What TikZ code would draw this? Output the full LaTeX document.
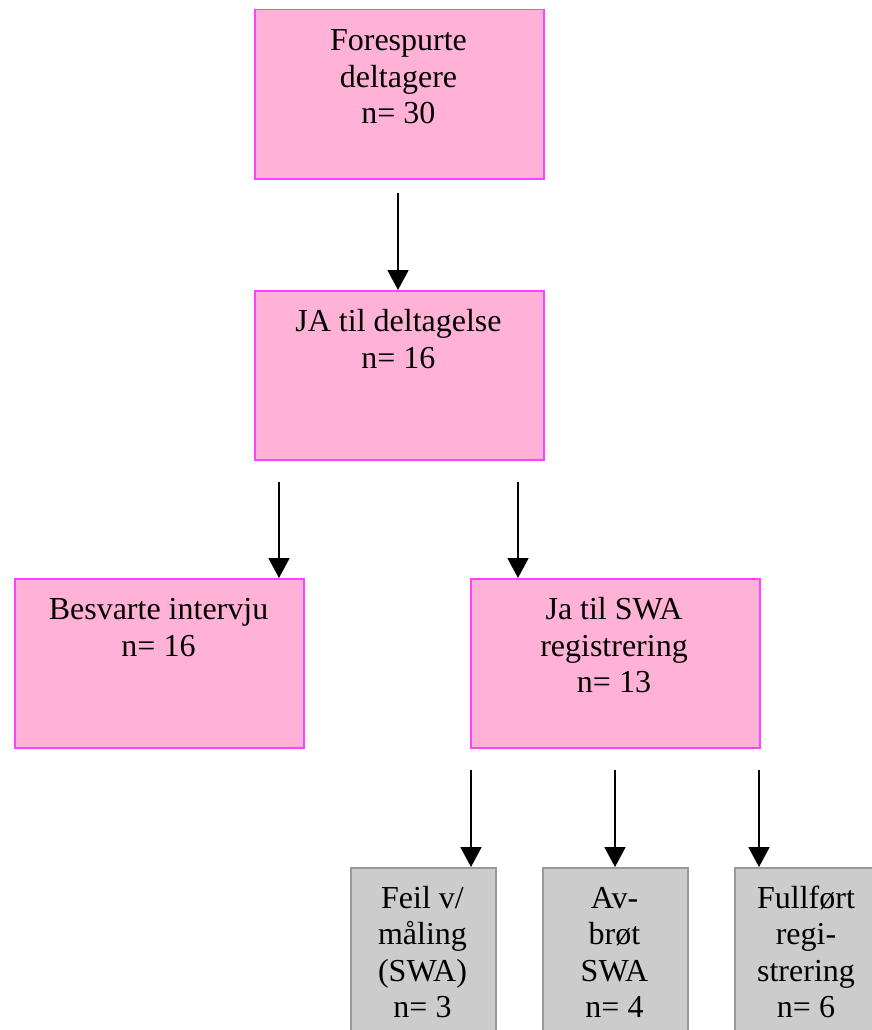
\documentclass[tikz,border=0pt]{standalone}
\usepackage{fontspec}
\setmainfont{Liberation Serif}
\usetikzlibrary{arrows.meta}
\definecolor{pinkfill}{RGB}{255,178,214}
\definecolor{pinkline}{RGB}{255,64,255}
\definecolor{greyfill}{RGB}{204,204,204}
\definecolor{greyline}{RGB}{153,153,153}
\begin{document}
\begin{tikzpicture}[x=1pt,y=-1pt,
  pinkbox/.style={draw=pinkline, fill=pinkfill, line width=1.5pt, anchor=north west,
    inner sep=0pt, minimum width=289pt, minimum height=169pt},
  greybox/.style={draw=greyline, fill=greyfill, line width=1.5pt, anchor=north west,
    inner sep=0pt, minimum width=145pt, minimum height=180pt},
  boxtext/.style={anchor=north, inner sep=0pt, align=center,
    font=\fontsize{32}{36.5}\selectfont},
  arr/.style={line width=1.8pt, -{Triangle[width=21pt,length=20pt]}}]
\clip (0,0) rectangle (872,1030);
\fill[white] (0,0) rectangle (872,1030);

% boxes
\node[pinkbox] (b1) at (254,9) {};
\node[pinkbox] (b2) at (254,290) {};
\node[pinkbox] (b3) at (14,578) {};
\node[pinkbox] (b4) at (470,578) {};
\node[greybox] (g1) at (350,867) {};
\node[greybox] (g2) at (542,867) {};
\node[greybox] (g3) at (734,867) {};

% texts
\node[boxtext] (t1) at (398.5,25) {\strut Forespurte\\deltagere\\n= 30};
\node[boxtext] (t2) at (398.5,306) {\strut JA til deltagelse\\n= 16};
\node[boxtext] (t3) at (158.5,594) {\strut Besvarte intervju\\n= 16};
\node[boxtext] (t4) at (614,594) {\strut Ja til SWA\\registrering\\n= 13};
\node[boxtext] (t5) at (422.5,882.5) {\strut Feil v/\\måling\\(SWA)\\n= 3};
\node[boxtext] (t6) at (614.5,882.5) {\strut Av-\\brøt\\SWA\\n= 4};
\node[boxtext] (t7) at (806,882.5) {\strut Fullført\\regi-\\strering\\n= 6};

% connectors
\coordinate (s1) at (398,193);
\coordinate (s2) at (279,482);
\coordinate (s3) at (518,482);
\coordinate (s4) at (471,770);
\coordinate (s5) at (615,770);
\coordinate (s6) at (759,770);
\draw[arr] (s1) -- (s1 |- b2.north);
\draw[arr] (s2) -- (s2 |- b3.north);
\draw[arr] (s3) -- (s3 |- b4.north);
\draw[arr] (s4) -- (s4 |- g1.north);
\draw[arr] (s5) -- (s5 |- g2.north);
\draw[arr] (s6) -- (s6 |- g3.north);
\end{tikzpicture}
\end{document}
